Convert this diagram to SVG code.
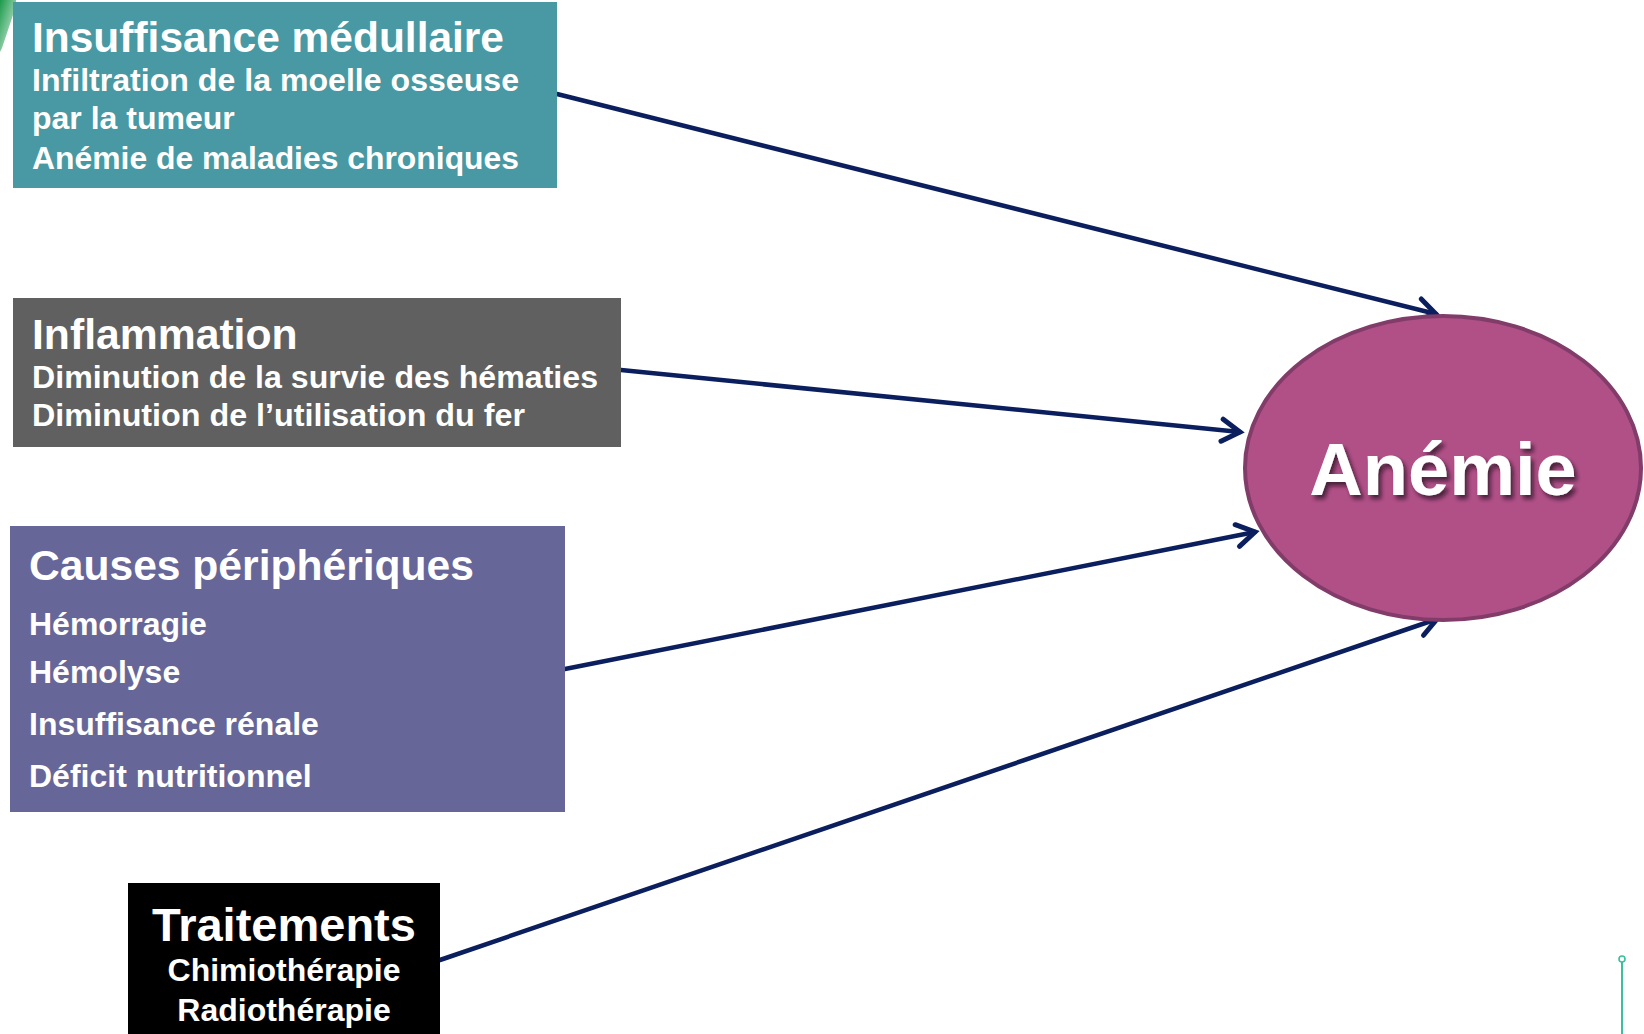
<svg xmlns="http://www.w3.org/2000/svg" width="1644" height="1034" viewBox="0 0 1644 1034">
<style>
  text { font-family: "Liberation Sans", Arial, sans-serif; font-weight: bold; fill: #ffffff; }
  .title { font-size: 42.7px; }
  .sub { font-size: 32px; }
  .conn { stroke: #0b1f5e; stroke-width: 4.5; fill: none; stroke-linecap: round; }
</style>
<defs>
  <marker id="arrow" markerUnits="userSpaceOnUse" markerWidth="40" markerHeight="40" refX="0" refY="0" orient="auto" overflow="visible">
    <path d="M -18 -11 L 0 0 L -18 11" fill="none" stroke="#0b1f5e" stroke-width="5" stroke-linecap="round" stroke-linejoin="miter"/>
  </marker>
  <linearGradient id="green" x1="0" y1="0" x2="1" y2="1">
    <stop offset="0" stop-color="#1a9a4a"/>
    <stop offset="1" stop-color="#e8f4ee"/>
  </linearGradient>
  <filter id="shadow" x="-10%" y="-20%" width="130%" height="150%">
    <feDropShadow dx="3" dy="4" stdDeviation="2" flood-color="#2a0a20" flood-opacity="0.75"/>
  </filter>
</defs>
<rect width="1644" height="1034" fill="#ffffff"/>
<polygon points="0,0 16,0 16,6 2,48 0,52" fill="url(#green)"/>
<line x1="1622" y1="962" x2="1622" y2="1034" stroke="#3cbf9c" stroke-width="2"/>
<circle cx="1622" cy="959" r="3" fill="#ffffff" stroke="#3cbf9c" stroke-width="1.6"/>

<g id="connectors">
  <line class="conn" x1="557" y1="94" x2="1436" y2="314" marker-end="url(#arrow)"/>
  <line class="conn" x1="621" y1="370" x2="1240" y2="432" marker-end="url(#arrow)"/>
  <line class="conn" x1="565" y1="669" x2="1255" y2="532" marker-end="url(#arrow)"/>
  <line class="conn" x1="440" y1="960" x2="1437" y2="619" marker-end="url(#arrow)"/>
</g>

<g id="node-insuffisance">
  <rect x="13" y="2" width="544" height="186" fill="#4899a3"/>
  <text class="title" x="32" y="52" textLength="472" lengthAdjust="spacingAndGlyphs">Insuffisance médullaire</text>
  <text class="sub" x="32" y="91" textLength="487" lengthAdjust="spacingAndGlyphs">Infiltration  de la moelle osseuse</text>
  <text class="sub" x="32" y="129">par la tumeur</text>
  <text class="sub" x="32" y="169" textLength="487" lengthAdjust="spacingAndGlyphs">Anémie de maladies chroniques</text>
</g>

<g id="node-inflammation">
  <rect x="13" y="298" width="608" height="149" fill="#606060"/>
  <text class="title" x="32" y="349">Inflammation</text>
  <text class="sub" x="32" y="388" textLength="566" lengthAdjust="spacingAndGlyphs">Diminution  de la survie des hématies</text>
  <text class="sub" x="32" y="426" textLength="493" lengthAdjust="spacingAndGlyphs">Diminution  de l’utilisation  du fer</text>
</g>

<g id="node-causes">
  <rect x="10" y="526" width="555" height="286" fill="#676698"/>
  <text class="title" x="29" y="580" textLength="445" lengthAdjust="spacingAndGlyphs">Causes périphériques</text>
  <text class="sub" x="29" y="635">Hémorragie</text>
  <text class="sub" x="29" y="683">Hémolyse</text>
  <text class="sub" x="29" y="735">Insuffisance rénale</text>
  <text class="sub" x="29" y="787">Déficit nutritionnel</text>
</g>

<g id="node-traitements">
  <rect x="128" y="883" width="312" height="151" fill="#000000"/>
  <text x="284" y="941" text-anchor="middle" font-size="47">Traitements</text>
  <text class="sub" x="284" y="981" text-anchor="middle">Chimiothérapie</text>
  <text class="sub" x="284" y="1021" text-anchor="middle">Radiothérapie</text>
</g>

<g id="node-anemie">
  <ellipse cx="1443" cy="468" rx="198" ry="152" fill="#b05087" stroke="#823c6a" stroke-width="4"/>
  <text x="1443" y="495" text-anchor="middle" font-size="74" filter="url(#shadow)">Anémie</text>
</g>
</svg>
